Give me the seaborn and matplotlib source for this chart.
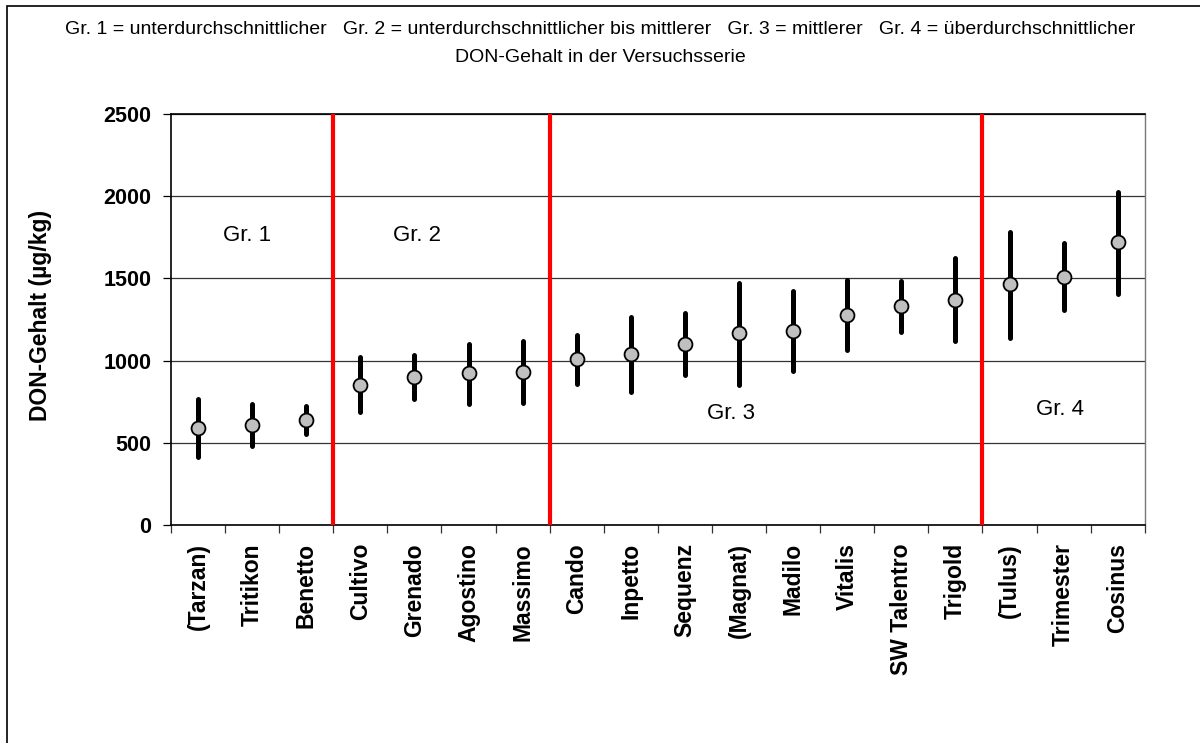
import numpy as np
import pandas as pd
import matplotlib.pyplot as plt
import matplotlib.patches as patches
import seaborn as sns

# Sorten und DON-Werte (Mittel, untere / obere Grenze)
sorten = ["(Tarzan)", "Tritikon", "Benetto", "Cultivo", "Grenado", "Agostino",
          "Massimo", "Cando", "Inpetto", "Sequenz", "(Magnat)", "Madilo",
          "Vitalis", "SW Talentro", "Trigold", "(Tulus)", "Trimester", "Cosinus"]
mittel = [588, 610, 638, 851, 902, 922, 932, 1007, 1038, 1100, 1165, 1181,
          1277, 1331, 1368, 1463, 1510, 1721]
unten = [412, 480, 553, 685, 768, 736, 744, 857, 811, 912, 853, 938,
         1064, 1175, 1121, 1139, 1307, 1405]
oben = [764, 736, 723, 1019, 1034, 1100, 1120, 1155, 1263, 1291, 1469, 1421,
        1490, 1484, 1622, 1783, 1713, 2027]

# Gruppengrenzen (zwischen den Sorten) und Gruppenbeschriftung
grenzen = [2.5, 6.5, 14.5]
gruppen = ["Gr. 1", "Gr. 2", "Gr. 3", "Gr. 4"]
gruppen_x = [0.9, 4.05, 9.85, 15.93]
gruppen_y = [1763, 1763, 681, 700]

df = pd.DataFrame({
    "Sorte": np.repeat(sorten, 3),
    "DON": np.column_stack([unten, mittel, oben]).ravel(),
})

sns.set_style("white")
plt.rcParams["font.family"] = ["Liberation Sans", "DejaVu Sans"]
plt.rcParams["text.color"] = "black"
plt.rcParams["xtick.color"] = "black"
plt.rcParams["ytick.color"] = "black"
plt.rcParams["axes.labelcolor"] = "black"

fig = plt.figure(figsize=(12, 7.43), dpi=100)
ax = fig.add_axes([0.1425, 0.2934, 0.954 - 0.1425, 0.8466 - 0.2934])

sns.pointplot(data=df, x="Sorte", y="DON", order=sorten, estimator="median",
              errorbar=("pi", 100), linestyle="none", color="black",
              markers="o", markersize=10, markeredgewidth=1.3,
              markerfacecolor="#c0c0c0", markeredgecolor="black",
              err_kws={"linewidth": 3.6, "solid_capstyle": "round"}, ax=ax)

for line in ax.lines:
    if line.get_marker() == "o":
        line.set_zorder(5)
        line.set_markerfacecolor("#c0c0c0")
        line.set_markeredgecolor("black")

for g in grenzen:
    ax.axvline(g, color="red", linewidth=3, zorder=4)

for t, x, y in zip(gruppen, gruppen_x, gruppen_y):
    ax.text(x, y, t, ha="center", va="center", fontsize=16)

ax.set_ylim(0, 2500)
ax.set_xlim(-0.5, len(sorten) - 0.5)
ax.set_yticks(np.arange(0, 2501, 500))
ax.yaxis.grid(True, color="#333333", linewidth=0.9)
ax.set_axisbelow(True)

ax.set_xticks(np.arange(len(sorten)))
ax.set_xticklabels(sorten, rotation=90, fontsize=16.5, fontweight="bold")
ax.set_xticks(np.arange(-0.5, len(sorten)), minor=True)
ax.tick_params(axis="x", which="major", length=0, pad=13)
ax.tick_params(axis="x", which="minor", length=6, width=0.9, color="#333333",
               direction="out", bottom=True)
ax.tick_params(axis="y", length=6, width=0.9, direction="out", left=True,
               labelsize=15.5, pad=8)
for lab in ax.get_yticklabels():
    lab.set_fontweight("bold")

ax.set_xlabel("")
ax.set_ylabel("DON-Gehalt (µg/kg)", fontsize=16.5, fontweight="bold")
ax.yaxis.set_label_coords((52 - 171) / 974, 0.51)

for s in ["left", "bottom", "top"]:
    ax.spines[s].set_color("black")
    ax.spines[s].set_linewidth(1.2)
ax.spines["right"].set_color("#777777")
ax.spines["right"].set_linewidth(1.0)

fig.text(0.5, 1 - 30 / 743,
         "Gr. 1 = unterdurchschnittlicher   Gr. 2 = unterdurchschnittlicher bis mittlerer"
         "   Gr. 3 = mittlerer   Gr. 4 = überdurchschnittlicher",
         ha="center", va="center", fontsize=14)
fig.text(0.5, 1 - 57 / 743, "DON-Gehalt in der Versuchsserie",
         ha="center", va="center", fontsize=14)

# Rahmen um das Diagramm
fig.patches.append(patches.Rectangle((7 / 1200, -0.01), 1.02, 1 - 6 / 743 + 0.01,
                                     transform=fig.transFigure, fill=False,
                                     edgecolor="black", linewidth=1.2))

fig.savefig("out.png", dpi=100)
